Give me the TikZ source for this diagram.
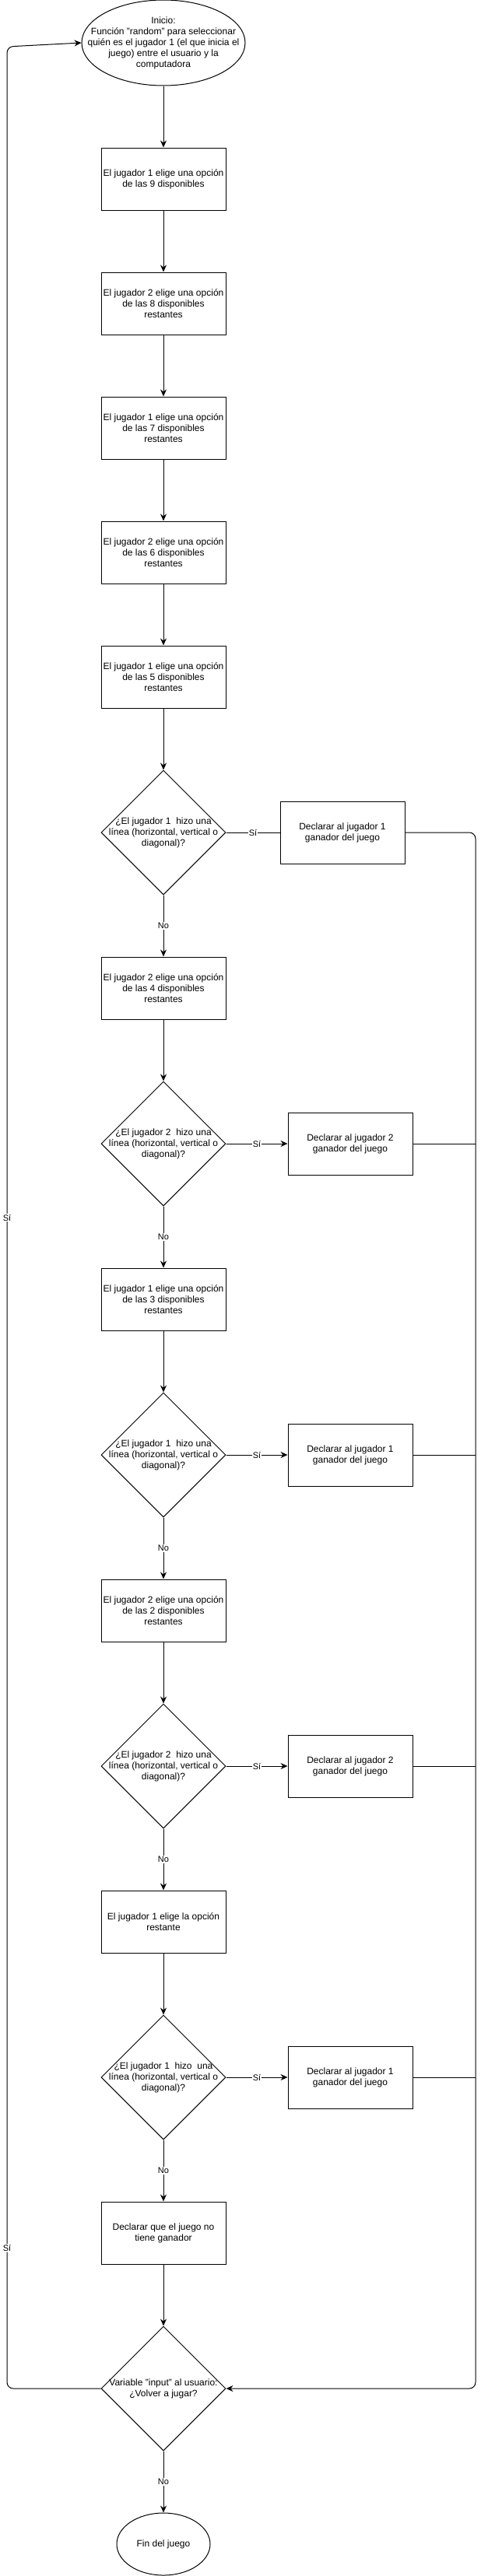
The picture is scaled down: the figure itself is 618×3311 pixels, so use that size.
\documentclass[tikz,border=0pt]{standalone}
\usepackage{fontspec}
\setmainfont{Liberation Sans}
\usetikzlibrary{shapes.geometric,arrows.meta}

\begin{document}
\begin{tikzpicture}[x=1pt,y=-1pt,line width=1pt,
  caja/.style={draw,rectangle,minimum width=160pt,minimum height=80pt,inner sep=1pt,align=center,font=\fontsize{12}{14}\selectfont},
  rombo/.style={draw,diamond,minimum width=160pt,minimum height=160pt,inner sep=0pt},
  elipse/.style={draw,ellipse,inner sep=0pt},
  texto/.style={align=center,font=\fontsize{12}{14}\selectfont},
  etiq/.style={fill=white,inner sep=1pt,font=\fontsize{11}{13}\selectfont},
  flecha/.style={-{Stealth[length=9pt,width=8pt,inset=3pt]}}]
\useasboundingbox (0,0) rectangle (618,3311);

\node[elipse,minimum width=210pt,minimum height=110pt,label={[texto]center:{Inicio:\\Función "random" para seleccionar\\quién es el jugador 1 (el que inicia el\\juego) entre el usuario y la\\computadora}}] (ini) at (210,55) {};
\node[caja] (1c) at (210,230) {El jugador 1 elige una opción\\de las 9 disponibles};
\node[caja] (2c) at (210,390) {El jugador 2 elige una opción\\de las 8 disponibles\\restantes};
\node[caja] (3c) at (210,550) {El jugador 1 elige una opción\\de las 7 disponibles\\restantes};
\node[caja] (4c) at (210,710) {El jugador 2 elige una opción\\de las 6 disponibles\\restantes};
\node[caja] (5c) at (210,870) {El jugador 1 elige una opción\\de las 5 disponibles\\restantes};
\node[rombo,label={[texto]center:{¿El jugador 1\ \ hizo una\\línea (horizontal, vertical o\\diagonal)?}}] (1r) at (210,1070) {};
\node[caja] (1g) at (440,1070) {Declarar al jugador 1\\ganador del juego};
\node[caja] (6c) at (210,1270) {El jugador 2 elige una opción\\de las 4 disponibles\\restantes};
\node[rombo,label={[texto]center:{¿El jugador 2\ \ hizo una\\línea (horizontal, vertical o\\diagonal)?}}] (2r) at (210,1470) {};
\node[caja] (2g) at (450,1470) {Declarar al jugador 2\\ganador del juego};
\node[caja] (7c) at (210,1670) {El jugador 1 elige una opción\\de las 3 disponibles\\restantes};
\node[rombo,label={[texto]center:{¿El jugador 1\ \ hizo una\\línea (horizontal, vertical o\\diagonal)?}}] (3r) at (210,1870) {};
\node[caja] (3g) at (450,1870) {Declarar al jugador 1\\ganador del juego};
\node[caja] (8c) at (210,2070) {El jugador 2 elige una opción\\de las 2 disponibles\\restantes};
\node[rombo,label={[texto]center:{¿El jugador 2\ \ hizo una\\línea (horizontal, vertical o\\diagonal)?}}] (4r) at (210,2270) {};
\node[caja] (4g) at (450,2270) {Declarar al jugador 2\\ganador del juego};
\node[caja] (9c) at (210,2470) {El jugador 1 elige la opción\\restante};
\node[rombo,label={[texto]center:{¿El jugador 1\ \ hizo\ \ una\\línea (horizontal, vertical o\\diagonal)?}}] (5r) at (210,2670) {};
\node[caja] (5g) at (450,2670) {Declarar al jugador 1\\ganador del juego};
\node[caja] (10c) at (210,2870) {Declarar que el juego no\\tiene ganador};
\node[rombo,label={[texto]center:{Variable "input" al usuario:\\¿Volver a jugar?}}] (6r) at (210,3070) {};
\node[elipse,minimum width=120pt,minimum height=80pt,texto] (fin) at (210,3270) {Fin del juego};

\coordinate (der) at (611,3070);
\coordinate (izq) at (9,60);

\path[draw,flecha] (ini) -- (1c);
\path[draw,flecha] (1c) -- (2c);
\path[draw,flecha] (2c) -- (3c);
\path[draw,flecha] (3c) -- (4c);
\path[draw,flecha] (4c) -- (5c);
\path[draw,flecha] (5c) -- (1r);
\path[draw] (1r) -- node[etiq] {Sí} (1g);
\path[draw,flecha] (1r) -- node[etiq] {No} (6c);
\path[draw,flecha] (6c) -- (2r);
\path[draw,flecha] (2r) -- node[etiq] {Sí} (2g);
\path[draw,flecha] (2r) -- node[etiq] {No} (7c);
\path[draw,flecha] (7c) -- (3r);
\path[draw,flecha] (3r) -- node[etiq] {Sí} (3g);
\path[draw,flecha] (3r) -- node[etiq] {No} (8c);
\path[draw,flecha] (8c) -- (4r);
\path[draw,flecha] (4r) -- node[etiq] {Sí} (4g);
\path[draw,flecha] (4r) -- node[etiq] {No} (9c);
\path[draw,flecha] (9c) -- (5r);
\path[draw,flecha] (5r) -- node[etiq] {Sí} (5g);
\path[draw,flecha] (5r) -- node[etiq] {No} (10c);
\path[draw,flecha] (10c) -- (6r);
\path[draw,flecha] (6r) -- node[etiq] {No} (fin);

\path[draw,flecha,rounded corners=8pt] (1g.east) -| (der) -- (6r.east);
\path[draw] (2g.east) -- (2g.east -| der);
\path[draw] (3g.east) -- (3g.east -| der);
\path[draw] (4g.east) -- (4g.east -| der);
\path[draw] (5g.east) -- (5g.east -| der);

\path[draw,flecha,rounded corners=8pt] (6r.west) -| (izq) node[etiq,pos=0.75] {Sí} node[etiq,pos=0.53] {Sí} -- (ini.west);
\end{tikzpicture}
\end{document}
